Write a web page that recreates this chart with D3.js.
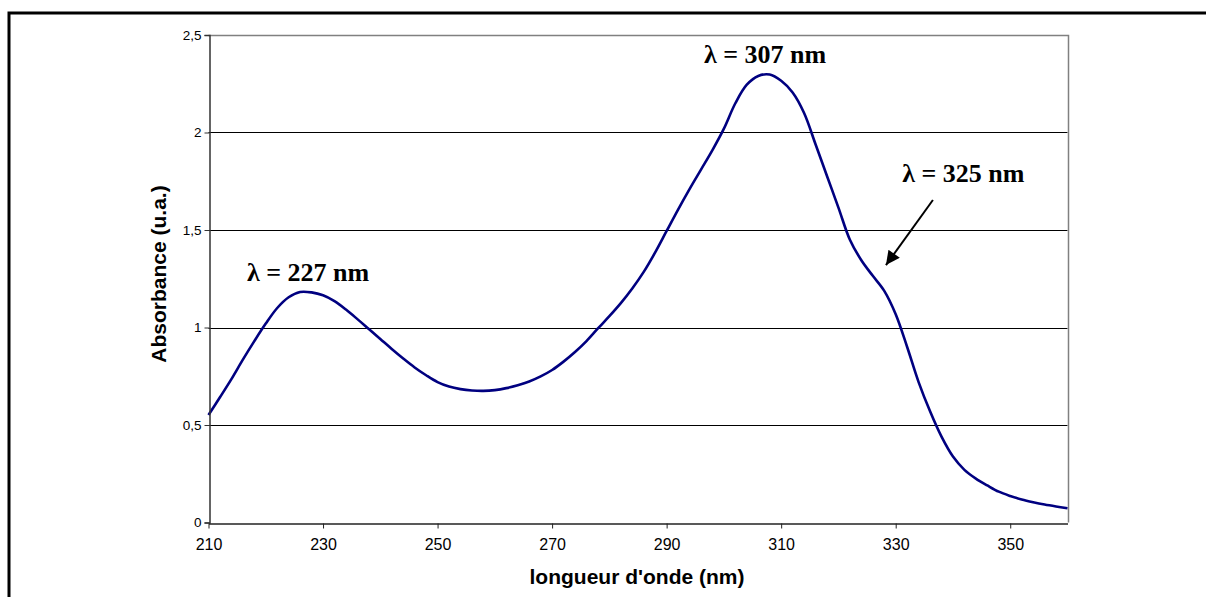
<!DOCTYPE html>
<html><head><meta charset="utf-8">
<script src="https://cdn.jsdelivr.net/npm/d3@7"></script>
<style>body{margin:0;background:#fff;}svg{display:block;}</style>
</head><body>
<svg id="c" width="1206" height="597"></svg>
<script>
const wavelengths = [210,212,214,216,218,220,222,224,226,228,230,232,234,236,238,240,242,244,246,248,250,252,254,256,258,260,262,264,266,268,270,272,274,276,278,280,282,284,286,288,290,292,294,296,298,300,302,304,306,308,310,312,314,316,318,320,322,324,326,328,330,332,334,336,338,340,342,344,346,348,350,352,354,356,358,360];
const absorbance = [0.551,0.642,0.735,0.835,0.93,1.02,1.10,1.155,1.182,1.18,1.165,1.135,1.092,1.043,0.992,0.941,0.89,0.841,0.795,0.755,0.72,0.697,0.684,0.677,0.675,0.679,0.689,0.704,0.723,0.749,0.782,0.825,0.874,0.93,0.995,1.058,1.125,1.20,1.285,1.385,1.495,1.605,1.71,1.81,1.91,2.02,2.15,2.245,2.29,2.297,2.265,2.205,2.10,1.94,1.777,1.615,1.45,1.345,1.265,1.188,1.068,0.90,0.72,0.57,0.44,0.338,0.27,0.225,0.19,0.158,0.136,0.118,0.104,0.092,0.082,0.073];
const xTicks = [210,230,250,270,290,310,330,350];
const yTicks = [0,0.5,1,1.5,2,2.5];
const annotations = [
  {text:"\u03bb = 227 nm", x:227.4, y:1.24},
  {text:"\u03bb = 307 nm", x:307.2, y:2.355},
  {text:"\u03bb = 325 nm", x:341.8, y:1.748}
];
const arrowFrom = [336.5, 1.654], arrowTo = [328.3, 1.32];

const svg = d3.select("#c");
// outer frame
svg.append("path").attr("d","M9,597 V13 H1206").attr("fill","none").attr("stroke","#000").attr("stroke-width",3);

const x = d3.scaleLinear().domain([210,360]).range([208.5,1067.5]);
const y = d3.scaleLinear().domain([0,2.5]).range([522.5,35]);

// gridlines
svg.append("g").selectAll("line").data(yTicks.filter(d=>d>0 && d<2.5)).join("line")
  .attr("x1",x(210)).attr("x2",x(360)).attr("y1",d=>Math.round(y(d))+0.5).attr("y2",d=>Math.round(y(d))+0.5)
  .attr("stroke","#000").attr("stroke-width",1);
// top and right plot borders (grey)
svg.append("path").attr("d",`M${x(210)},${Math.round(y(2.5))+0.5} H${Math.round(x(360))+0.5} V${y(0)}`)
  .attr("fill","none").attr("stroke","#808080").attr("stroke-width",1.5);

// curve
svg.append("path").datum(wavelengths.map((w,i)=>[w,absorbance[i]]))
  .attr("fill","none").attr("stroke","#000080").attr("stroke-width",2.6)
  .attr("d",d3.line().x(d=>x(d[0])).y(d=>y(d[1])).curve(d3.curveCatmullRom.alpha(0.5)));

// axes
const ya = svg.append("g").attr("transform",`translate(${Math.round(x(210))+0.5},0)`)
  .call(d3.axisLeft(y).tickValues(yTicks).tickSize(5).tickPadding(3).tickFormat(d=>d3.format("")(d).replace(".",",")));
ya.select(".domain").attr("stroke","#333").attr("stroke-width",1.5);
ya.selectAll(".tick line").attr("stroke","#333");
ya.selectAll("text").attr("font-family","'Liberation Sans',Arial,sans-serif").attr("font-size",13.5).attr("fill","#000");

const xa = svg.append("g").attr("transform",`translate(0,${Math.round(y(0))+0.5})`)
  .call(d3.axisBottom(x).tickValues(xTicks).tickSize(5).tickPadding(10).tickSizeOuter(0));
xa.select(".domain").attr("stroke","#222").attr("stroke-width",1.5);
xa.selectAll(".tick line").attr("stroke","#222");
xa.selectAll("text").attr("font-family","'Liberation Sans',Arial,sans-serif").attr("font-size",16).attr("fill","#000");

// axis titles
svg.append("text").attr("x",637).attr("y",584).attr("text-anchor","middle")
  .attr("font-family","'Liberation Sans',Arial,sans-serif").attr("font-weight","bold").attr("font-size",21)
  .text("longueur d'onde (nm)");
svg.append("text").attr("transform","translate(166,274) rotate(-90)").attr("text-anchor","middle")
  .attr("font-family","'Liberation Sans',Arial,sans-serif").attr("font-weight","bold").attr("font-size",21)
  .text("Absorbance (u.a.)");

// annotations
svg.append("g").selectAll("text").data(annotations).join("text")
  .attr("x",d=>x(d.x)).attr("y",d=>y(d.y)).attr("text-anchor","middle")
  .attr("font-family","'Liberation Serif','Times New Roman',serif").attr("font-weight","bold").attr("font-size",26)
  .text(d=>d.text);

// arrow
svg.append("defs").append("marker").attr("id","ah").attr("viewBox","0 0 10 10").attr("refX",10).attr("refY",5)
  .attr("markerWidth",17).attr("markerHeight",14).attr("markerUnits","userSpaceOnUse").attr("orient","auto")
  .append("path").attr("d","M0,0 L10,5 L0,10 Z").attr("fill","#000");
svg.append("line").attr("x1",x(arrowFrom[0])).attr("y1",y(arrowFrom[1])).attr("x2",x(arrowTo[0])).attr("y2",y(arrowTo[1]))
  .attr("stroke","#000").attr("stroke-width",2).attr("marker-end","url(#ah)");
</script>
</body></html>
